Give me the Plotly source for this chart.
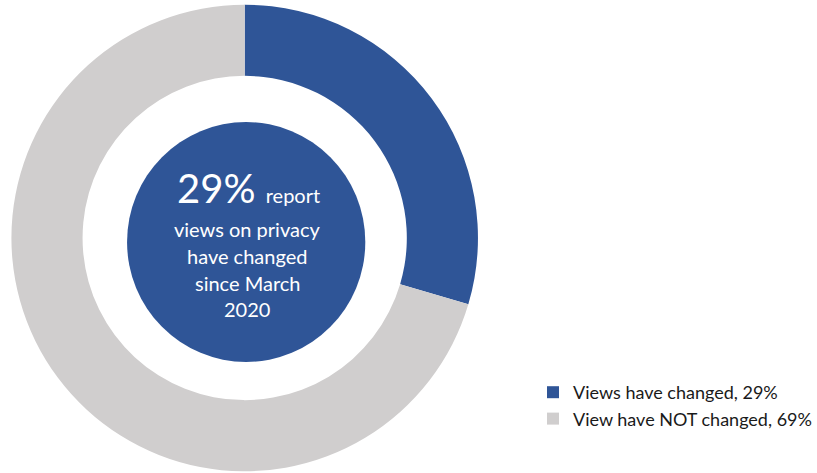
import plotly.graph_objects as go

labels = ["Views have changed, 29%", "View have NOT changed, 69%"]
values = [29, 69]
colors = ["#2F5597", "#D0CECE"]
center_lines = ["views on privacy", "have changed", "since March", "2020"]

W, H = 817, 473
MT = 3
PH = H - MT

def px(x):
    return x / W

def py(y):
    return (H - y) / PH

cx, cy, R = 246.5, 238.0, 235.0

fig = go.Figure()
fig.add_trace(go.Pie(
    labels=labels,
    values=values,
    hole=0.695,
    sort=False,
    direction="clockwise",
    rotation=0,
    marker=dict(colors=colors, line=dict(width=0)),
    textinfo="none",
    hoverinfo="label",
    domain=dict(x=[px(cx - R), px(cx + R)], y=[0, 1]),
))

# inner blue disc
bx, by, br = 248, 242, 120
fig.add_shape(type="circle", xref="paper", yref="paper",
              x0=px(bx - br), x1=px(bx + br), y0=py(by + br), y1=py(by - br),
              fillcolor="#2F5597", line=dict(width=0), layer="above")

fig.add_annotation(
    x=px(250), y=py(188), xref="paper", yref="paper",
    text="<span style='font-size:40px'>29%</span>  <span style='font-size:20px'>report</span>",
    showarrow=False, font=dict(family="Lato", color="white", size=20),
    xanchor="center", yanchor="middle",
)
line_y = [229, 256, 283, 309]
for t, yy in zip(center_lines, line_y):
    fig.add_annotation(
        x=px(249), y=py(yy), xref="paper", yref="paper", text=t,
        showarrow=False, font=dict(family="Lato", color="white", size=20),
        xanchor="center", yanchor="middle",
    )

fig.update_layout(
    width=W, height=H,
    margin=dict(l=0, r=0, t=MT, b=0),
    paper_bgcolor="white", plot_bgcolor="white",
    showlegend=True,
    legend=dict(
        x=px(537), y=py(374), xanchor="left", yanchor="top",
        font=dict(family="Lato", size=18, color="#1a1a1a"),
        bgcolor="rgba(0,0,0,0)",
    ),
)

fig.write_html("out.html", config={"displayModeBar": False},
               post_script="document.body.style.margin='0';document.body.style.overflow='hidden';")
